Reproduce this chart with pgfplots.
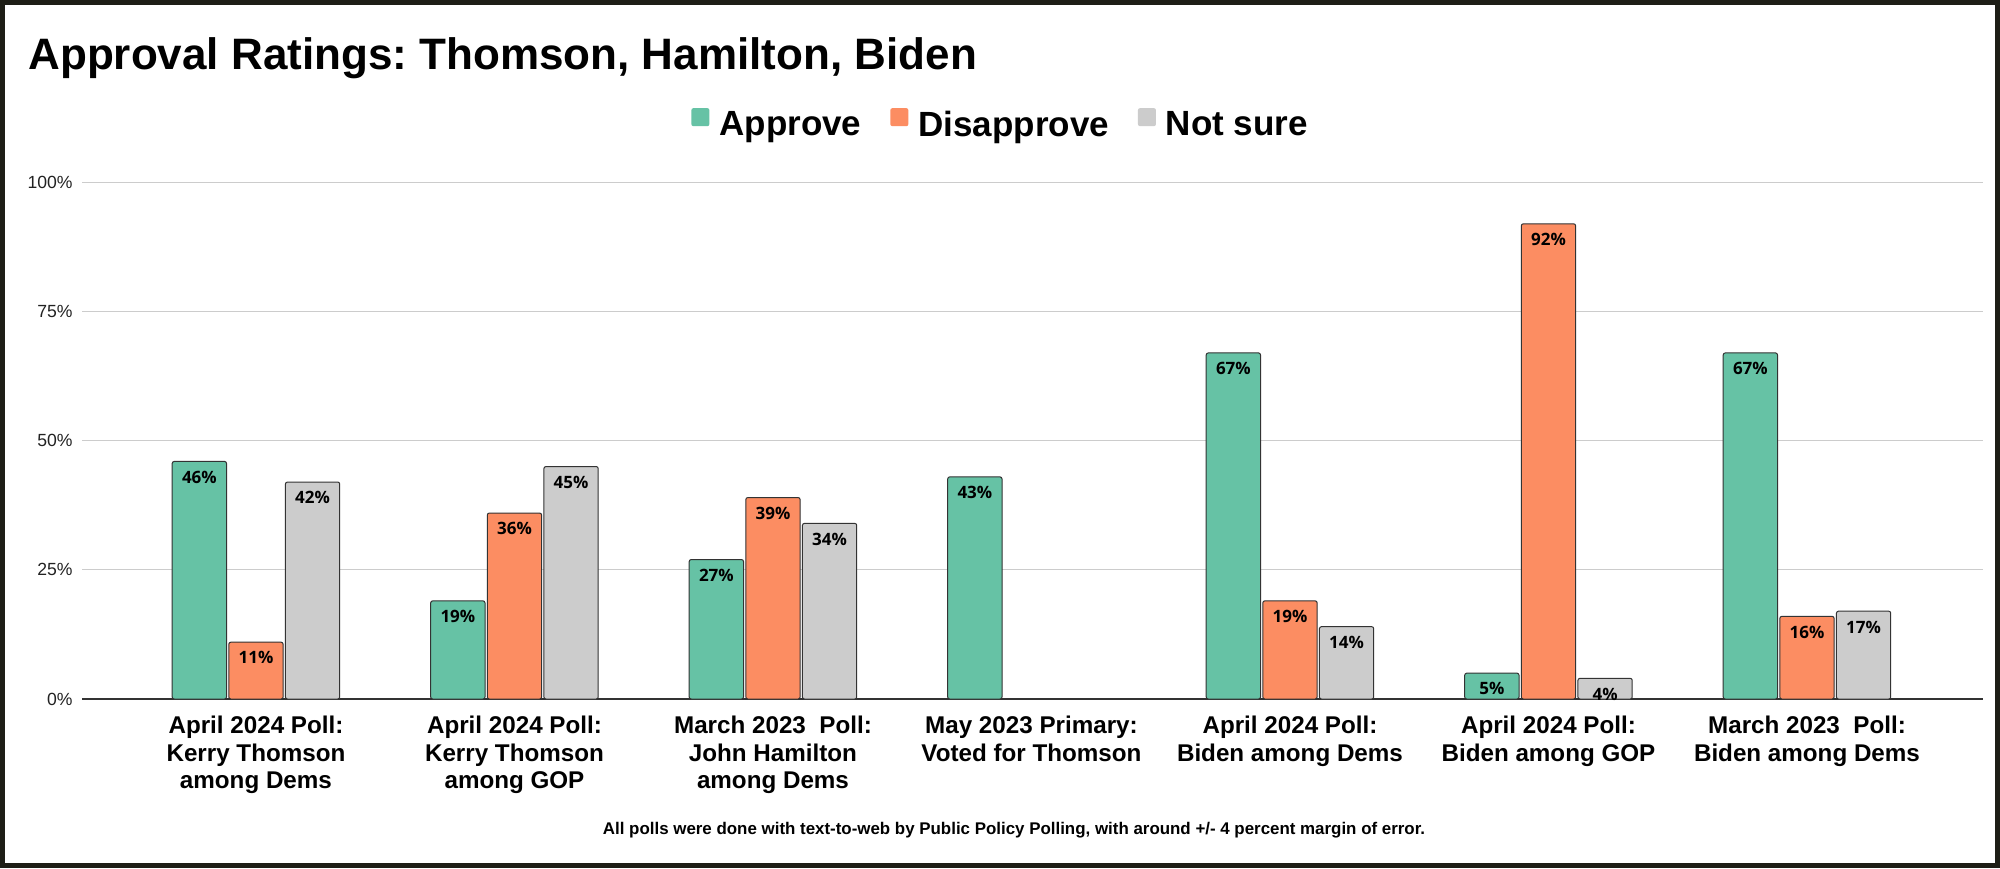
\documentclass[border=0pt]{standalone}
\usepackage{fontspec}
\setmainfont{Liberation Sans}
\newfontfamily\labfont{Open Sans}
\usepackage{pgfplots}
\pgfplotsset{compat=1.18}
\definecolor{cA}{HTML}{66C2A5}
\definecolor{cD}{HTML}{FC8D62}
\definecolor{cN}{HTML}{CCCCCC}
\definecolor{barline}{HTML}{333333}
\definecolor{framecol}{HTML}{1E1E16}
\definecolor{gridcol}{HTML}{CCCCCC}
\definecolor{axiscol}{HTML}{333333}
\definecolor{ticktext}{HTML}{222222}
\pgfplotsset{sq legend/.style={legend image code/.code={\fill[##1, draw=none] (-1pt,-0.5pt) rectangle (8pt,8.5pt);}}}
\frenchspacing
\begin{document}
\begin{tikzpicture}
\useasboundingbox (0,0) rectangle (1000pt,434pt);
\fill[framecol] (0,0) rectangle (1000pt,434pt);
\fill[white] (2.5pt,2.5pt) rectangle (997.5pt,431.5pt);
\node[anchor=base west, font=\fontsize{22}{26}\selectfont\bfseries, inner sep=0pt] at (14pt,399pt) {Approval Ratings: Thomson, Hamilton, Biden};
\node[anchor=base, font=\fontsize{8.45}{10}\selectfont\bfseries, inner sep=0pt] at (507pt,17pt) {All polls were done with text-to-web by Public Policy Polling, with around +/- 4 percent margin of error.};
\begin{axis}[
  at={(41pt,84.5pt)}, anchor=south west,
  scale only axis, width=950.5pt, height=258.25pt,
  xmin=-0.673, xmax=6.681, ymin=0, ymax=100,
  ybar, bar width=0.21,
  axis line style={draw=none},
  major tick length=0pt,
  xtick={0,1,2,3,4,5,6},
  xticklabels={
    {April 2024 Poll:\\Kerry Thomson\\among Dems},
    {April 2024 Poll:\\Kerry Thomson\\among GOP},
    {March 2023\ \ Poll:\\John Hamilton\\among Dems},
    {May 2023 Primary:\\Voted for Thomson},
    {April 2024 Poll:\\Biden among Dems},
    {April 2024 Poll:\\Biden among GOP},
    {March 2023\ \ Poll:\\Biden among Dems}},
  xticklabel style={font=\fontsize{12.1}{13.75}\selectfont\bfseries, align=center, anchor=north, inner sep=0pt, yshift=-8.5pt},
  ytick={25,50,75,100}, yticklabels={25\%,50\%,75\%,100\%},
  extra y ticks={0}, extra y tick labels={0\%},
  extra y tick style={major grid style={color=axiscol, line width=0.8pt}},
  ymajorgrids, major grid style={color=gridcol, line width=0.5pt},
  yticklabel style={font=\fontsize{8.8}{10}\selectfont, text=ticktext, anchor=east, inner sep=0pt, xshift=-4.5pt},
  nodes near coords={\pgfmathprintnumber[assume math mode=true]{\pgfplotspointmeta}\%},
  nodes near coords align={below},
  every node near coord/.append style={inner sep=0pt, yshift=-4.5pt, font=\fontsize{8.5}{10}\selectfont\labfont\bfseries, text=black},
  legend columns=3,
  legend style={at={(0.4835,1.111)}, anchor=center, draw=none, fill=none,
    font=\fontsize{17.5}{20}\selectfont\bfseries,
    nodes={inner sep=1.5pt},
    /tikz/every odd column/.append style={column sep=3.5pt},
    /tikz/every even column/.append style={column sep=13pt}},
]
\addplot[fill=cA, draw=barline, line width=0.5pt, rounded corners=1pt, bar shift=-0.219, sq legend]
  coordinates {(0,46) (1,19) (2,27) (3,43) (4,67) (5,5) (6,67)};
\addplot[fill=cD, draw=barline, line width=0.5pt, rounded corners=1pt, bar shift=0, sq legend]
  coordinates {(0,11) (1,36) (2,39) (4,19) (5,92) (6,16)};
\addplot[fill=cN, draw=barline, line width=0.5pt, rounded corners=1pt, bar shift=0.219, sq legend]
  coordinates {(0,42) (1,45) (2,34) (4,14) (5,4) (6,17)};
\legend{Approve,Disapprove,Not sure}
\end{axis}
\end{tikzpicture}
\end{document}
